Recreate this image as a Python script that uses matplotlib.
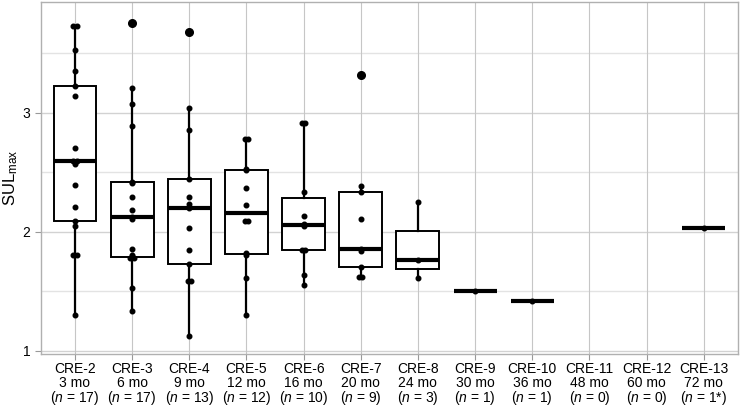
import numpy as np
import matplotlib
matplotlib.use("Agg")
import matplotlib.pyplot as plt

plt.rcParams["font.family"] = ["Liberation Sans", "DejaVu Sans"]
plt.rcParams["mathtext.fontset"] = "custom"
plt.rcParams["mathtext.rm"] = "Liberation Sans"
plt.rcParams["mathtext.it"] = "Liberation Sans:italic"

# data
groups = ["CRE-2", "CRE-3", "CRE-4", "CRE-5", "CRE-6", "CRE-7",
          "CRE-8", "CRE-9", "CRE-10", "CRE-11", "CRE-12", "CRE-13"]
months = ["3 mo", "6 mo", "9 mo", "12 mo", "16 mo", "20 mo",
          "24 mo", "30 mo", "36 mo", "48 mo", "60 mo", "72 mo"]
n_labels = ["17", "17", "13", "12", "10", "9", "3", "1", "1", "0", "0", "1*"]

cre2 = [1.30, 1.80, 1.80, 2.05, 2.09, 2.21, 2.39, 2.57, 2.59, 2.59, 2.70,
        3.14, 3.22, 3.35, 3.53, 3.73, 3.73]
cre3 = [1.336, 1.53, 1.776, 1.776, 1.79, 1.80, 1.852, 2.107, 2.12, 2.18,
        2.292, 2.41, 2.42, 2.891, 3.073, 3.205, 3.756]
cre4 = [1.126, 1.583, 1.583, 1.73, 1.85, 2.029, 2.20, 2.235, 2.292, 2.44,
        2.852, 3.042, 3.676]
cre5 = [1.30, 1.608, 1.804, 1.82, 2.09, 2.09, 2.222, 2.37, 2.52, 2.524,
        2.781, 2.781]
cre6 = [1.549, 1.638, 1.849, 1.849, 2.05, 2.062, 2.129, 2.331, 2.911, 2.911]
cre7 = [1.619, 1.619, 1.70, 1.84, 1.855, 2.109, 2.331, 2.38, 3.317]
cre8 = [1.608, 1.76, 2.253]
cre9 = [1.50]
cre10 = [1.42]
cre11 = []
cre12 = []
cre13 = [2.03]

data = [cre2, cre3, cre4, cre5, cre6, cre7, cre8, cre9, cre10, cre11, cre12, cre13]

fig = plt.figure(figsize=(7.4, 4.07), dpi=100)
ax = fig.add_axes([40.7 / 740, 1 - 354 / 407, (738 - 40.7) / 740, (354 - 2) / 407])

# grid
for y in [1.5, 2.5, 3.5]:
    ax.axhline(y, color="#e3e3e3", lw=1.0, zorder=0)
for y in [1, 2, 3]:
    ax.axhline(y, color="#d2d2d2", lw=1.0, zorder=0)
for i in range(len(groups)):
    ax.axvline(i, color="#c6c6c6", lw=0.8, zorder=0)

pos = [i for i, d in enumerate(data) if len(d) > 0]
vals = [d for d in data if len(d) > 0]

ax.boxplot(vals, positions=pos, widths=0.75, showcaps=False, patch_artist=True,
           boxprops=dict(facecolor="white", edgecolor="black", linewidth=1.4),
           whiskerprops=dict(color="black", linewidth=1.6),
           medianprops=dict(color="black", linewidth=3.0, solid_capstyle="butt"),
           flierprops=dict(marker="o", markerfacecolor="black", markeredgecolor="black",
                           markersize=5.5),
           zorder=2)

# points, small horizontal spread for ties
for i, d in enumerate(data):
    vs, counts = np.unique(d, return_counts=True)
    for v, k in zip(vs, counts):
        xs = i + (np.arange(k) - (k - 1) / 2) * 0.06
        ax.plot(xs, [v] * k, "o", color="black", markersize=3.3, zorder=3)

ax.set_xlim(-0.6, len(groups) - 0.4)
ax.set_ylim(0.972, 3.93)
ax.set_yticks([1, 2, 3])
ax.set_xticks(range(len(groups)))
ax.set_xticklabels([f"{g}\n{m}\n($\\mathit{{n}}$ = {n})" for g, m, n in zip(groups, months, n_labels)],
                   fontsize=10, linespacing=0.95)
ax.tick_params(axis="both", colors="#999999", labelcolor="black", length=4, width=0.8, labelsize=10)
ax.tick_params(axis="x", pad=2)
for s in ax.spines.values():
    s.set_color("#b0b0b0")
    s.set_linewidth(1.0)

ax.set_ylabel(r"SUL$_{\mathregular{max}}$", fontsize=12)
ax.yaxis.set_label_coords(-0.029, 0.5)

fig.savefig("out.png", dpi=100)
